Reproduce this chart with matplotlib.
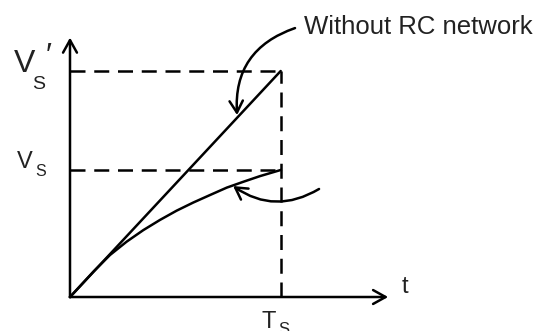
import matplotlib
matplotlib.use('Agg')
import matplotlib.pyplot as plt
from matplotlib.patches import FancyArrowPatch

plt.rcParams['font.family'] = ['Liberation Sans', 'DejaVu Sans']

# normalised units: Ts = 1, Vs' = 1
Ts = 1.0
Vs_prime = 1.0
Vs = 0.562

# ramp without the RC network
t_lin = [0.0, Ts]
v_lin = [0.0, Vs_prime]

# ramp with the RC network
t_rc = [0.0, 0.111, 0.190, 0.269, 0.348, 0.427, 0.506, 0.585, 0.664, 0.744, 0.823, 0.902, 1.0]
v_rc = [0.0, 0.112, 0.186, 0.245, 0.296, 0.341, 0.382, 0.418, 0.451, 0.484, 0.510, 0.535, 0.562]

fig = plt.figure(figsize=(5.45, 3.31), dpi=100)
ax = fig.add_axes([0, 0, 1, 1])
ax.set_xlim(-0.3322, 2.2544)
ax.set_ylim(-0.1504, 1.3142)
ax.axis('off')

lw = 1.8
dash = (6, 3.5)

# axes with open arrow heads
for end in [(1.51, 0.0), (0.0, 1.148)]:
    ax.add_patch(FancyArrowPatch((0, 0), end, arrowstyle='->,head_length=0.45,head_width=0.25',
                                 mutation_scale=20, lw=lw, color='black', shrinkA=0, shrinkB=0))

# dashed guides
ax.plot([0, Ts], [Vs_prime, Vs_prime], color='black', lw=lw, dashes=dash)
ax.plot([0, Ts], [Vs, Vs], color='black', lw=lw, dashes=dash)
ax.plot([Ts, Ts], [0, Vs_prime], color='black', lw=lw, dashes=dash)

# the two ramps
ax.plot(t_lin, v_lin, color='black', lw=lw, solid_capstyle='round')
ax.plot(t_rc, v_rc, color='black', lw=lw, solid_joinstyle='round')

# curved pointers
ax.add_patch(FancyArrowPatch((1.068, 1.19), (0.793, 0.805), connectionstyle='arc3,rad=0.38',
                             arrowstyle='->,head_length=0.42,head_width=0.24', mutation_scale=20,
                             lw=lw, color='black', shrinkA=0, shrinkB=0))
ax.add_patch(FancyArrowPatch((1.182, 0.478), (0.774, 0.491), connectionstyle='arc3,rad=-0.32',
                             arrowstyle='->,head_length=0.42,head_width=0.24', mutation_scale=20,
                             lw=lw, color='black', shrinkA=0, shrinkB=0))

# labels
c = '#222222'
ax.text(-0.265, Vs_prime + 0.03, 'V', fontsize=23, color=c, ha='left', va='center')
ax.text(-0.18, Vs_prime - 0.06, 'S', fontsize=14, color=c, ha='left', va='center')
ax.text(-0.115, Vs_prime + 0.06, '′', fontsize=23, color=c, ha='left', va='center')

ax.text(-0.25, Vs + 0.035, 'V', fontsize=17, color=c, ha='left', va='center')
ax.text(-0.165, Vs - 0.005, 'S', fontsize=11.5, color=c, ha='left', va='center')

ax.text(1.575, 0.045, 't', fontsize=17, color=c, ha='left', va='center')
ax.text(0.91, -0.11, 'T', fontsize=17, color=c, ha='left', va='center')
ax.text(0.99, -0.145, 'S', fontsize=12, color=c, ha='left', va='center')

ax.text(1.11, 1.195, 'Without RC network', fontsize=18.5, color=c, ha='left', va='center')

fig.savefig('out.png', dpi=100)
